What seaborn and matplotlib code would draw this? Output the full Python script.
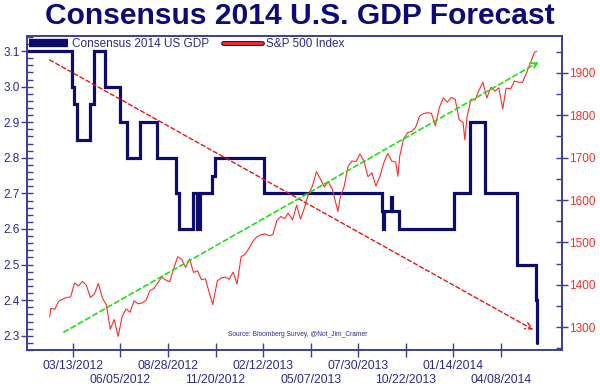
import pandas as pd
import numpy as np
import matplotlib
matplotlib.use('Agg')
import matplotlib.pyplot as plt
import matplotlib.patheffects as pe
from matplotlib.lines import Line2D
from matplotlib.ticker import MultipleLocator, FixedLocator, FixedFormatter
import seaborn as sns

sns.set_style('white')
plt.rcParams['font.family'] = ['Liberation Sans', 'DejaVu Sans']

NAVY = '#0c0c6e'
AXIS = '#3c3ca0'
RED = '#ff2a2a'

# consensus 2014 GDP forecast (step changes)
gdp_dates = ['2011-12-25', '2012-03-11', '2012-03-15', '2012-03-20', '2012-04-12', '2012-04-19',
             '2012-05-09', '2012-06-04', '2012-06-16', '2012-07-09', '2012-08-08', '2012-09-11',
             '2012-09-16', '2012-10-11', '2012-10-18', '2012-10-23', '2012-11-14', '2012-11-19',
             '2013-02-13', '2013-09-10', '2013-09-12', '2013-09-14', '2013-09-26', '2013-09-28',
             '2013-10-10', '2014-01-15', '2014-02-12', '2014-03-11', '2014-05-06', '2014-06-09',
             '2014-06-10', '2014-06-11']
gdp_values = [3.1, 3.0, 2.95, 2.85, 2.95, 3.1,
              3.0, 2.9, 2.8, 2.9, 2.8, 2.7,
              2.6, 2.7, 2.6, 2.7, 2.75, 2.8,
              2.7, 2.65, 2.6, 2.65, 2.69, 2.65,
              2.6, 2.7, 2.9, 2.7, 2.5, 2.4,
              2.3, 2.28]

# S&P 500 index
spx_dates = ['2012-02-01', '2012-02-03', '2012-02-10', '2012-02-17', '2012-02-24', '2012-03-02',
             '2012-03-09', '2012-03-16', '2012-03-23', '2012-03-30', '2012-04-06', '2012-04-13',
             '2012-04-20', '2012-04-27', '2012-05-04', '2012-05-11', '2012-05-18', '2012-05-25',
             '2012-06-01', '2012-06-08', '2012-06-15', '2012-06-22', '2012-06-29', '2012-07-06',
             '2012-07-13', '2012-07-20', '2012-07-27', '2012-08-03', '2012-08-10', '2012-08-17',
             '2012-08-24', '2012-08-31', '2012-09-07', '2012-09-14', '2012-09-21', '2012-09-28',
             '2012-10-05', '2012-10-12', '2012-10-19', '2012-10-26', '2012-11-02', '2012-11-09',
             '2012-11-15', '2012-11-23', '2012-11-30', '2012-12-07', '2012-12-14', '2012-12-21',
             '2012-12-28', '2013-01-04', '2013-01-11', '2013-01-18', '2013-01-25', '2013-02-01',
             '2013-02-08', '2013-02-15', '2013-02-22', '2013-03-01', '2013-03-08', '2013-03-15',
             '2013-03-22', '2013-03-28', '2013-04-05', '2013-04-12', '2013-04-19', '2013-04-26',
             '2013-05-03', '2013-05-10', '2013-05-17', '2013-05-24', '2013-05-31', '2013-06-07',
             '2013-06-14', '2013-06-24', '2013-06-28', '2013-07-05', '2013-07-12', '2013-07-19',
             '2013-07-26', '2013-08-02', '2013-08-09', '2013-08-16', '2013-08-23', '2013-08-30',
             '2013-09-06', '2013-09-13', '2013-09-20', '2013-09-27', '2013-10-04', '2013-10-08',
             '2013-10-11', '2013-10-18', '2013-10-25', '2013-11-01', '2013-11-08', '2013-11-15',
             '2013-11-22', '2013-11-29', '2013-12-06', '2013-12-13', '2013-12-20', '2013-12-27',
             '2014-01-03', '2014-01-10', '2014-01-17', '2014-01-24', '2014-01-31', '2014-02-03',
             '2014-02-07', '2014-02-14', '2014-02-21', '2014-02-28', '2014-03-07', '2014-03-14',
             '2014-03-21', '2014-03-28', '2014-04-04', '2014-04-11', '2014-04-17', '2014-04-25',
             '2014-05-02', '2014-05-09', '2014-05-16', '2014-05-23', '2014-05-30', '2014-06-06',
             '2014-06-10']
spx_values = [1324, 1344, 1342, 1361, 1366, 1370,
              1371, 1404, 1397, 1408, 1398, 1370,
              1378, 1403, 1369, 1353, 1295, 1318,
              1278, 1325, 1343, 1335, 1362, 1355,
              1357, 1363, 1386, 1391, 1405, 1418,
              1411, 1407, 1438, 1466, 1460, 1441,
              1461, 1429, 1433, 1412, 1414, 1380,
              1353, 1409, 1416, 1418, 1413, 1430,
              1402, 1466, 1472, 1486, 1503, 1513,
              1518, 1520, 1516, 1518, 1551, 1561,
              1556, 1569, 1553, 1588, 1555, 1582,
              1614, 1633, 1667, 1650, 1631, 1643,
              1626, 1573, 1606, 1632, 1680, 1692,
              1691, 1709, 1691, 1655, 1664, 1633,
              1655, 1688, 1710, 1692, 1690, 1656,
              1703, 1745, 1759, 1762, 1771, 1798,
              1804, 1806, 1805, 1775, 1818, 1841,
              1831, 1842, 1838, 1790, 1783, 1742,
              1797, 1838, 1836, 1859, 1878, 1841,
              1866, 1857, 1865, 1815, 1864, 1863,
              1881, 1878, 1878, 1900, 1924, 1949,
              1951]

# trend arrows (start, end)
gdp_trend_dates = ['2012-02-01', '2014-06-04']
gdp_trend_values = [3.075, 2.317]
spx_trend_dates = ['2012-02-26', '2014-06-14']
spx_trend_values = [1288, 1926]

# date ticks, labels alternate between two rows
upper_ticks = ['2012-03-13', '2012-08-28', '2013-02-12', '2013-07-30', '2014-01-14']
lower_ticks = ['2012-06-05', '2012-11-20', '2013-05-07', '2013-10-22', '2014-04-08']

gdp = pd.DataFrame({'date': pd.to_datetime(gdp_dates), 'value': gdp_values})
spx = pd.DataFrame({'date': pd.to_datetime(spx_dates), 'value': spx_values})

fig = plt.figure(figsize=(6, 3.88), dpi=100)
ax = fig.add_axes([0.045, 0.098, 0.892, 0.809])
ax2 = ax.twinx()

sns.lineplot(data=gdp, x='date', y='value', ax=ax, color=NAVY, linewidth=2.3,
             drawstyle='steps-post', solid_joinstyle='miter')
sns.lineplot(data=spx, x='date', y='value', ax=ax2, color=RED, linewidth=0.8)

ax.set_xlim(pd.Timestamp('2011-12-23'), pd.Timestamp('2014-07-25'))
ax.set_ylim(2.26, 3.142)
ax2.set_ylim(1246, 1987)

ax.annotate('', xy=(pd.Timestamp(gdp_trend_dates[1]), gdp_trend_values[1]),
            xytext=(pd.Timestamp(gdp_trend_dates[0]), gdp_trend_values[0]),
            arrowprops=dict(arrowstyle='->', color='#ee1111', linestyle=(0, (3, 2)),
                            linewidth=1.0, mutation_scale=12, shrinkA=0, shrinkB=0))
ax2.annotate('', xy=(pd.Timestamp(spx_trend_dates[1]), spx_trend_values[1]),
             xytext=(pd.Timestamp(spx_trend_dates[0]), spx_trend_values[0]),
             arrowprops=dict(arrowstyle='->', color='#22dd11', linestyle=(0, (3, 2)),
                             linewidth=1.2, mutation_scale=12, shrinkA=0, shrinkB=0))

# axes styling
for a in (ax, ax2):
    for s in a.spines.values():
        s.set_color(AXIS)
        s.set_linewidth(1.2)
    a.set_xlabel('')
    a.set_ylabel('')

ax.set_yticks(np.arange(2.3, 3.11, 0.1))
ax.set_yticklabels([f'{v:.1f}' for v in np.arange(2.3, 3.11, 0.1)])
ax.yaxis.set_minor_locator(MultipleLocator(0.02))
ax.tick_params(axis='y', which='major', direction='inout', length=8, width=1,
               color=AXIS, labelcolor='#2a2a90', labelsize=8.5, pad=1)
ax.tick_params(axis='y', which='minor', direction='in', length=4, width=1, color=AXIS, left=True)

ax2.set_yticks(np.arange(1300, 1901, 100))
ax2.yaxis.set_minor_locator(MultipleLocator(50))
ax2.tick_params(axis='y', which='major', direction='inout', length=8, width=1,
                color=AXIS, labelcolor=RED, labelsize=8.5, pad=1)
ax2.tick_params(axis='y', which='minor', direction='in', length=4, width=1, color=AXIS, right=True)

fmt = lambda ds: [pd.Timestamp(d).strftime('%m/%d/%Y') for d in ds]
up = pd.to_datetime(upper_ticks)
lo = pd.to_datetime(lower_ticks)
ax.xaxis.set_major_locator(FixedLocator(matplotlib.dates.date2num(up)))
ax.xaxis.set_major_formatter(FixedFormatter(fmt(upper_ticks)))
ax.xaxis.set_minor_locator(FixedLocator(matplotlib.dates.date2num(lo)))
ax.xaxis.set_minor_formatter(FixedFormatter(fmt(lower_ticks)))
ax.tick_params(axis='x', which='both', direction='inout', length=10, width=1,
               color=AXIS, labelcolor='#2a2a90', labelsize=8.8, bottom=True)
ax.tick_params(axis='x', which='major', pad=2)
ax.tick_params(axis='x', which='minor', pad=12)

ax.text(0.505, 0.05, 'Source: Bloomberg Survey, @Not_Jim_Cramer', transform=ax.transAxes,
        fontsize=4.8, color='#2a2a90', ha='center', va='center')

handles = [
    Line2D([], [], color=NAVY, linewidth=6, solid_capstyle='butt'),
    Line2D([], [], color=RED, linewidth=2,
           path_effects=[pe.Stroke(linewidth=3.5, foreground=NAVY), pe.Normal()]),
]
leg = ax2.legend(handles, ['Consensus 2014 US GDP', 'S&P 500 Index'], loc='upper left',
                 ncol=2, frameon=False, fontsize=8.5, handlelength=3.3, handletextpad=0.35,
                 columnspacing=1.1, borderaxespad=0.1, borderpad=0.1)
for t in leg.get_texts():
    t.set_color('#2a2a90')

fig.text(0.5, 0.958, 'Consensus 2014 U.S. GDP Forecast', ha='center', va='center',
         fontsize=21.6, fontweight='bold', color='#0a0a78')

fig.savefig('out.png', dpi=100, facecolor='white')
